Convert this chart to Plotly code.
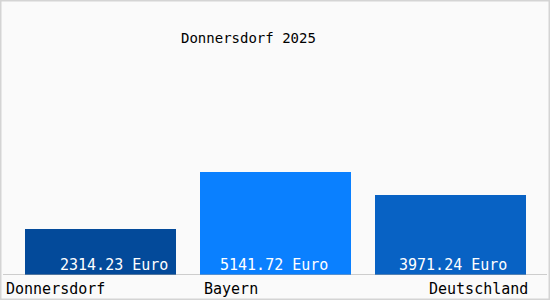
import plotly.graph_objects as go

# ---- data ----
categories = ["Donnersdorf", "Bayern", "Deutschland"]
values = [2314.23, 5141.72, 3971.24]
value_labels = ["2314.23 Euro", "5141.72 Euro", "3971.24 Euro"]
title_text = "Donnersdorf 2025"

# ---- style ----
bar_colors = ["#034a9a", "#0a80ff", "#0862c4"]
FONT = "DejaVu Sans Mono"
W, H = 550, 300
ML, MR, MT, MB = 3, 3, 60, 25
plot_w = W - ML - MR
plot_h = H - MT - MB
px_per_cat = 175.0
first_center_px = 100.5
x0 = -(first_center_px - ML) / px_per_cat
x1 = x0 + plot_w / px_per_cat
y_max = plot_h * values[1] / 103.0
bar_width = 151 / px_per_cat
value_xshift = [13, -2, 2]

fig = go.Figure()
fig.add_trace(go.Bar(
    x=list(range(len(categories))),
    y=values,
    marker=dict(color=bar_colors, line=dict(width=0)),
    width=bar_width,
    hoverinfo="skip",
))

annotations = []
# value labels inside bars
for i, (lab, xs) in enumerate(zip(value_labels, value_xshift)):
    annotations.append(dict(
        x=i, y=0, xref="x", yref="y", text=lab, showarrow=False,
        xanchor="center", yanchor="bottom", xshift=xs, yshift=-1,
        font=dict(family=FONT, size=15, color="white"),
    ))
# category labels below
annotations.append(dict(
    x=(4 - ML) / plot_w, y=0, xref="paper", yref="y", text=categories[0],
    showarrow=False, xanchor="left", yanchor="top", yshift=-3,
    font=dict(family=FONT, size=15, color="black"),
))
annotations.append(dict(
    x=1 - bar_width / 2, y=0, xref="x", yref="y", text=categories[1],
    showarrow=False, xanchor="left", yanchor="top", xshift=2, yshift=-3,
    font=dict(family=FONT, size=15, color="black"),
))
annotations.append(dict(
    x=(530 - ML) / plot_w, y=0, xref="paper", yref="y", text=categories[2],
    showarrow=False, xanchor="right", yanchor="top", yshift=-3,
    font=dict(family=FONT, size=15, color="black"),
))
# title
annotations.append(dict(
    x=(248 - ML) / plot_w, y=1 + (MT - 38) / plot_h, xref="paper", yref="paper",
    text=title_text, showarrow=False, xanchor="center", yanchor="middle",
    font=dict(family=FONT, size=14, color="black"),
))

shapes = [
    # outer border
    dict(type="rect", xref="paper", yref="paper",
         x0=(0.5 - ML) / plot_w, x1=1 + (MR - 0.5) / plot_w,
         y0=-(MB - 0.5) / plot_h, y1=1 + (MT - 0.5) / plot_h,
         line=dict(color="#d4d4d4", width=2), fillcolor="rgba(0,0,0,0)", layer="below"),
    # baseline
    dict(type="line", xref="paper", yref="y", x0=0, x1=1, y0=0, y1=0,
         line=dict(color="#a0a0a0", width=1), layer="above"),
]

fig.update_layout(
    width=W, height=H,
    margin=dict(l=ML, r=MR, t=MT, b=MB, pad=0),
    paper_bgcolor="#fafafa", plot_bgcolor="#fafafa",
    showlegend=False,
    xaxis=dict(range=[x0, x1], visible=False, fixedrange=True),
    yaxis=dict(range=[0, y_max], visible=False, fixedrange=True),
    annotations=annotations,
    shapes=shapes,
    bargap=0,
)

fig.write_html("out.html", config={"displayModeBar": False})
